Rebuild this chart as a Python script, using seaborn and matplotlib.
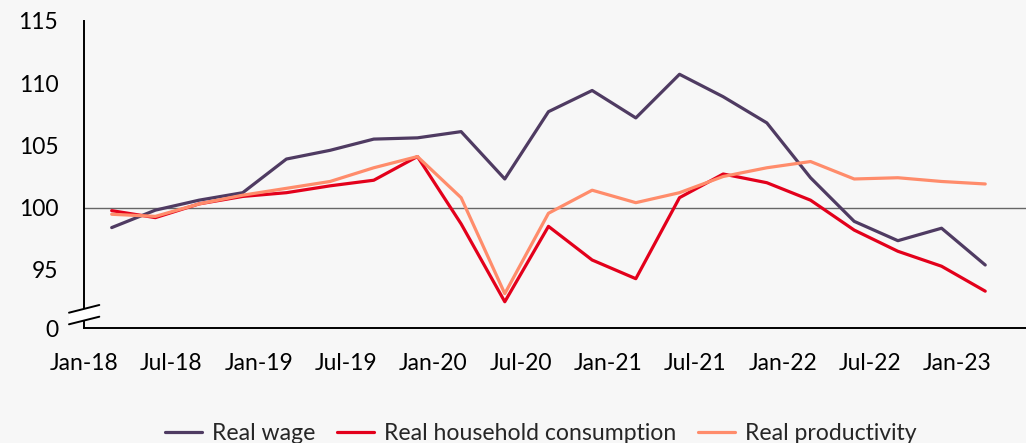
import pandas as pd
import numpy as np
import matplotlib
matplotlib.use("Agg")
import matplotlib.pyplot as plt
import seaborn as sns
from matplotlib.patches import Polygon

# --- data (quarterly, 2018Q1 - 2023Q1) ---
months = [1.9 + 3 * i for i in range(21)]  # months since Jan-18
real_wage = [98.4, 99.8, 100.6, 101.2, 103.9, 104.6, 105.5, 105.6, 106.1, 102.3,
             107.7, 109.4, 107.2, 110.7, 108.9, 106.8, 102.4, 98.9, 97.35, 98.35, 95.4]
real_consumption = [99.76, 99.2, 100.3, 100.9, 101.2, 101.75, 102.2, 104.1, 98.7, 92.45,
                    98.5, 95.8, 94.3, 100.8, 102.7, 102.0, 100.6, 98.2, 96.5, 95.3, 93.3]
real_productivity = [99.47, 99.3, 100.3, 101.0, 101.55, 102.1, 103.2, 104.1, 100.8, 93.1,
                     99.55, 101.4, 100.4, 101.2, 102.5, 103.2, 103.7, 102.3, 102.4, 102.1, 101.9]
series_names = ["Real wage", "Real household consumption", "Real productivity"]
colors = ["#4f3b62", "#e3001b", "#ff8c6b"]
tick_months = list(range(0, 61, 6))
tick_labels = ["Jan-18", "Jul-18", "Jan-19", "Jul-19", "Jan-20", "Jul-20",
               "Jan-21", "Jul-21", "Jan-22", "Jul-22", "Jan-23"]

df = pd.DataFrame({
    "month": months * 3,
    "value": real_wage + real_consumption + real_productivity,
    "series": np.repeat(series_names, len(months)),
})

sns.set_style("white")
plt.rcParams["font.family"] = ["Lato", "DejaVu Sans"]
bg = "#f7f7f7"

fig = plt.figure(figsize=(10.26, 4.43), dpi=100, facecolor=bg)
ax = fig.add_axes([0.0819, 0.2589, 0.9181, 0.6944])
ax.set_facecolor(bg)

ax.axhline(100, color="#666666", lw=1, zorder=1)
sns.lineplot(data=df, x="month", y="value", hue="series", hue_order=series_names,
             palette=colors, linewidth=2.3, ax=ax, zorder=3)

ymin = 90.32
ax.set_ylim(ymin, 115)
ax.set_xlim(0, 64.7)
ax.set_yticks([ymin, 95, 100, 105, 110, 115])
ax.set_yticklabels(["0", "95", "100", "105", "110", "115"])
ax.set_xticks(tick_months)
ax.set_xticklabels(tick_labels)
ax.tick_params(axis="both", labelsize=16.5, colors="black", direction="out",
               length=6.5, width=1.4)
ax.tick_params(axis="y", pad=12)
ax.tick_params(axis="x", pad=11)
ax.set_xlabel("")
ax.set_ylabel("")
for s in ["top", "right"]:
    ax.spines[s].set_visible(False)
for s in ["left", "bottom"]:
    ax.spines[s].set_color("black")
    ax.spines[s].set_linewidth(1.4)

# axis break marker
W, H = 1026, 443
def fp(x, y):
    return (x / W, 1 - y / H)
poly = Polygon([fp(69, 312.7), fp(99.3, 305), fp(99.3, 316.7), fp(69, 324.3)],
               closed=True, transform=fig.transFigure, facecolor="white",
               edgecolor="none", zorder=5, clip_on=False)
fig.patches.append(poly)
for y0, y1 in [(312.7, 305), (324.3, 316.7)]:
    fig.add_artist(plt.Line2D([69 / W, 99.3 / W], [1 - y0 / H, 1 - y1 / H],
                              transform=fig.transFigure, color="black", lw=1.4, zorder=6))

handles, labels = ax.get_legend_handles_labels()
ax.get_legend().remove()
fig.legend(handles, labels, loc="center", bbox_to_anchor=(0.527, 0.022), ncol=3,
           frameon=False, fontsize=16.6, handlelength=1.6, columnspacing=0.95,
           handletextpad=0.43)

fig.savefig("out.png", dpi=100, facecolor=bg)
